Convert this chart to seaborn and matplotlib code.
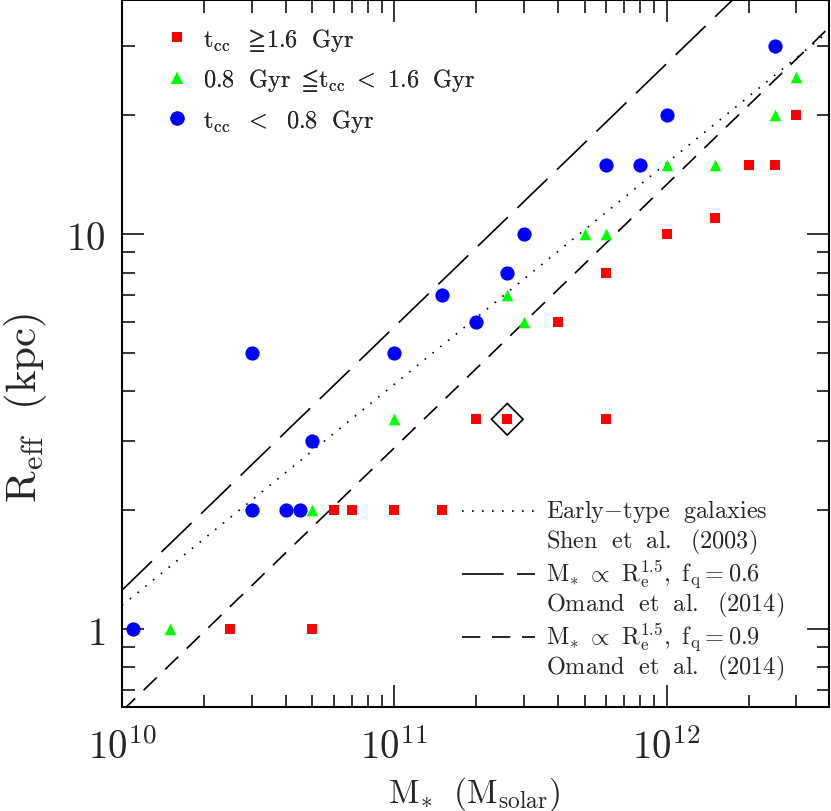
import numpy as np
import pandas as pd
import matplotlib
matplotlib.use("Agg")
import matplotlib.pyplot as plt
from matplotlib.lines import Line2D
import seaborn as sns

# ---------------- data ----------------
# t_cc >= 1.6 Gyr (red squares)
red_mass = [2.5e10, 5e10, 6e10, 7e10, 1e11, 1.5e11, 2e11, 2.6e11, 4e11, 6e11, 6e11, 1e12, 1.5e12, 2e12, 2.5e12, 3e12]
red_reff = [1.0, 1.0, 2.0, 2.0, 2.0, 2.0, 3.4, 3.4, 6.0, 8.0, 3.4, 10.0, 11.0, 15.0, 15.0, 20.0]
# 0.8 Gyr <= t_cc < 1.6 Gyr (green triangles)
green_mass = [1.5e10, 5e10, 1e11, 2.6e11, 3e11, 5e11, 6e11, 1e12, 1.5e12, 2.5e12, 3e12]
green_reff = [1.0, 2.0, 3.4, 7.0, 6.0, 10.0, 10.0, 15.0, 15.0, 20.0, 25.0]
# t_cc < 0.8 Gyr (blue circles)
blue_mass = [1.1e10, 3e10, 3e10, 4e10, 4.5e10, 5e10, 1e11, 1.5e11, 2e11, 2.6e11, 3e11, 6e11, 8e11, 1e12, 2.5e12]
blue_reff = [1.0, 5.0, 2.0, 2.0, 2.0, 3.0, 5.0, 7.0, 6.0, 8.0, 10.0, 15.0, 15.0, 20.0, 30.0]
# highlighted object
high_mass = [2.6e11]
high_reff = [3.4]

# relations: log R = slope * log M + intercept
rel_names = ["shen", "omand06", "omand09"]
rel_slope = [0.56, 2.0 / 3.0, 2.0 / 3.0]
rel_intercept = [-5.54, np.log10(1.255) - 20.0 / 3.0, np.log10(0.62) - 20.0 / 3.0]
mass_range = [1e10, 3.95e12]

legend_pts = [r"$\mathrm{t_{cc}}\ \ \geqq\!\mathrm{1.6\ \ Gyr}$",
              r"$\mathrm{0.8\ \ Gyr}\ \leqq\!\mathrm{t_{cc}}\ <\ \mathrm{1.6\ \ Gyr}$",
              r"$\mathrm{t_{cc}}\ \ <\ \ \mathrm{0.8\ \ Gyr}$"]
legend_rel_line1 = [r"$\mathrm{Early{-}type\ \ galaxies}$",
                    r"$\mathrm{M_{*}\ \propto\ R_{e}^{1.5},\ f_{q}{=}0.6}$",
                    r"$\mathrm{M_{*}\ \propto\ R_{e}^{1.5},\ f_{q}{=}0.9}$"]
legend_rel_line2 = [r"$\mathrm{Shen\ \ et\ \ al.\ \ (2003)}$",
                    r"$\mathrm{Omand\ \ et\ \ al.\ \ (2014)}$",
                    r"$\mathrm{Omand\ \ et\ \ al.\ \ (2014)}$"]

# ---------------- style ----------------
sns.set_style("ticks")
plt.rcParams["font.family"] = ["DejaVu Serif"]
plt.rcParams["mathtext.fontset"] = "cm"
plt.rcParams["axes.linewidth"] = 1.5

fig = plt.figure(figsize=(8.31, 8.12), dpi=100)
ax = fig.add_axes([122 / 831, 104 / 812, 707 / 831, 707 / 812])

def ax_xy(px, py):
    return (px - 122) / 707, (708 - py) / 707

# relation lines
df_rel = []
for n, s, b in zip(rel_names, rel_slope, rel_intercept):
    for m in mass_range:
        df_rel.append({"name": n, "mass": m, "reff": 10 ** (s * np.log10(m) + b)})
df_rel = pd.DataFrame(df_rel)
styles = {"shen": (0, (1.0, 5.0)), "omand06": (0, (25, 8)), "omand09": (0, (11, 7))}
for n in rel_names:
    sub = df_rel[df_rel["name"] == n]
    sns.lineplot(data=sub, x="mass", y="reff", ax=ax, color="black", lw=1.2,
                 linestyle=styles[n], legend=False, zorder=2)

# points
df_r = pd.DataFrame({"mass": red_mass, "reff": red_reff})
df_g = pd.DataFrame({"mass": green_mass, "reff": green_reff})
df_b = pd.DataFrame({"mass": blue_mass, "reff": blue_reff})
sns.scatterplot(data=df_r, x="mass", y="reff", ax=ax, marker="s", s=46, color="#ff0000",
                linewidth=0, zorder=3, legend=False)
sns.scatterplot(data=df_g, x="mass", y="reff", ax=ax, marker="^", s=70, color="#00ff00",
                linewidth=0, zorder=3, legend=False)
sns.scatterplot(data=df_b, x="mass", y="reff", ax=ax, marker="o", s=105, color="#0000ff",
                linewidth=0, zorder=3, legend=False)
ax.scatter(high_mass, high_reff, marker="D", s=260, facecolors="none", edgecolors="black",
           linewidths=1.2, zorder=4)

ax.set_xscale("log")
ax.set_yscale("log")
ax.set_xlim(1e10, 3.95e12)
ax.set_ylim(0.635, 39.2)

ax.set_xticks([1e10, 1e11, 1e12])
ax.set_xticklabels([r"$10^{10}$", r"$10^{11}$", r"$10^{12}$"])
ax.set_yticks([1, 10])
ax.set_yticklabels([r"$1$", r"$10$"])
ax.xaxis.set_minor_locator(matplotlib.ticker.LogLocator(base=10, subs=np.arange(2, 10)))
ax.yaxis.set_minor_locator(matplotlib.ticker.LogLocator(base=10, subs=np.arange(2, 10)))
ax.xaxis.set_minor_formatter(matplotlib.ticker.NullFormatter())
ax.yaxis.set_minor_formatter(matplotlib.ticker.NullFormatter())
ax.tick_params(which="both", direction="in", top=True, right=True, color="black", width=1.1)
ax.tick_params(which="major", length=16, labelsize=28)
ax.tick_params(which="minor", length=9)
ax.tick_params(axis="x", which="major", pad=15)
ax.tick_params(axis="y", which="major", pad=12)
for sp in ax.spines.values():
    sp.set_color("black")
    sp.set_linewidth(1.5)

ax.set_xlabel(r"$\mathrm{M_{*}}\ \ \mathrm{(M_{solar})}$", fontsize=24, va="baseline")
ax.xaxis.set_label_coords(*ax_xy(474, 803))
ax.set_ylabel(r"$\mathrm{R_{eff}}\ \ \mathrm{(kpc)}$", fontsize=31, va="center")
ax.yaxis.set_label_coords(*ax_xy(26, 408))

# legend for points
h_pts = [Line2D([], [], ls="none", marker="s", ms=6.8, color="#ff0000", mew=0),
         Line2D([], [], ls="none", marker="^", ms=8.4, color="#00ff00", mew=0),
         Line2D([], [], ls="none", marker="o", ms=10.2, color="#0000ff", mew=0)]
leg1 = ax.legend(h_pts, legend_pts, loc="upper left", bbox_to_anchor=ax_xy(165, 27),
                 frameon=False, fontsize=17.5, handlelength=1.0, handletextpad=0.58,
                 labelspacing=0.55, borderpad=0, borderaxespad=0)
ax.add_artist(leg1)

# legend for relations (two-line entries)
rel_rows = [512, 575, 638]
for n, py, t1, t2 in zip(rel_names, rel_rows, legend_rel_line1, legend_rel_line2):
    x0, y0 = ax_xy(462, py)
    x1, _ = ax_xy(535, py)
    ax.add_line(Line2D([x0, x1], [y0, y0], transform=ax.transAxes, color="black",
                       lw=1.2, ls=styles[n]))
    tx, ty = ax_xy(546, py)
    ax.text(tx, ty, t1, transform=ax.transAxes, fontsize=17.5, va="center", ha="left")
    tx2, ty2 = ax_xy(546, py + 30)
    ax.text(tx2, ty2, t2, transform=ax.transAxes, fontsize=17.5, va="center", ha="left")

fig.savefig("out.png", dpi=100)
